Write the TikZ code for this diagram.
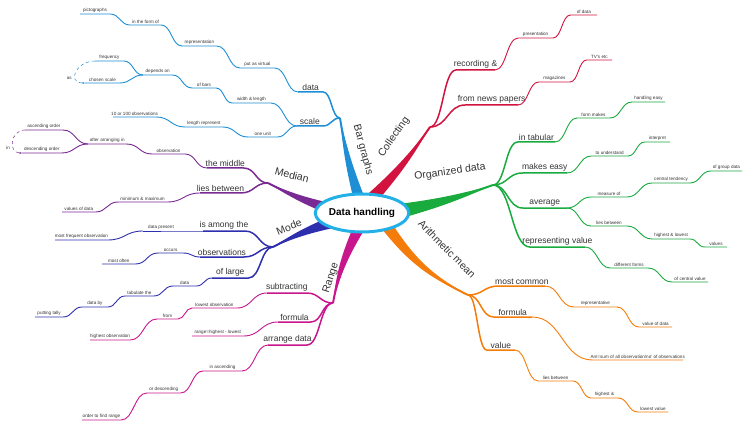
\documentclass[tikz,border=0pt]{standalone}
\usepackage{fontspec}
\setmainfont{Liberation Sans}
\usetikzlibrary{shapes.geometric,calc,arrows.meta}
\definecolor{cbl}{HTML}{1E8FD5}
\definecolor{cpu}{HTML}{7A2A93}
\definecolor{cmo}{HTML}{2E2FAE}
\definecolor{cra}{HTML}{C8168C}
\definecolor{cco}{HTML}{D3133F}
\definecolor{cgr}{HTML}{1AAB3F}
\definecolor{cor}{HTML}{F47C0A}
\definecolor{cce}{HTML}{22B0E6}
\definecolor{ctx}{HTML}{333333}
\tikzset{
  lsm/.style={font=\fontsize{4.6}{5}\selectfont},
  lmd/.style={font=\fontsize{8.5}{9}\selectfont},
  lbg/.style={font=\fontsize{10.5}{11}\selectfont},
  lbl/.style={above,inner sep=1pt,text=ctx},
  br1/.style={line width=1.5pt},
  br2/.style={line width=0.9pt},
}
\newcommand\seg[5][]{%
  \draw[#2] let \p1=(#3),\p2=(#4) in (#3) .. controls ({\x1+0.2*(\x2-\x1)},\y1) and ({\x1+0.2*(\x2-\x1)},\y2) .. ({\x1+0.4*(\x2-\x1)},\y2) -- (#4) node[midway,lbl,#1]{#5};}
\newcommand\trunk[6]{%
  \fill[#1] (#2) to[bend left=#5] (#4) to[bend right=#5] (#3) -- cycle;
  \draw[#1,line width=2pt] (#6) to[bend left=#5] (#4);}
\begin{document}
\begin{tikzpicture}[x=1pt,y=-1pt]
\useasboundingbox (0,0) rectangle (750,433);
\coordinate (C) at (362,213);
\coordinate (bA1) at (353,197); \coordinate (bA2) at (364,196); \coordinate (bA) at (358,196);
\coordinate (bH) at (340,118);
\coordinate (b1) at (298,92); \coordinate (b2) at (240,68); \coordinate (b3) at (182,46);
\coordinate (b4) at (130,25); \coordinate (b5) at (80,14);
\coordinate (s0) at (297,126); \coordinate (s1) at (232,103); \coordinate (s2) at (192,88);
\coordinate (s3) at (143,75); \coordinate (s4) at (95,61); \coordinate (s5) at (85,83);
\coordinate (u1) at (248,137); \coordinate (u2) at (185,127); \coordinate (u3) at (113,117);
\coordinate (mA1) at (330,203); \coordinate (mA2) at (328,214); \coordinate (mA) at (329,208);
\coordinate (mH) at (268,183);
\coordinate (m1) at (207,168); \coordinate (m2) at (152,154); \coordinate (m3) at (88,144);
\coordinate (m4) at (25,130); \coordinate (m5) at (22,153);
\coordinate (m6) at (200,193); \coordinate (m7) at (118,202); \coordinate (m8) at (62,212);
\coordinate (oA1) at (327,218); \coordinate (oA2) at (333,228); \coordinate (oA) at (330,223);
\coordinate (oH) at (273,247);
\coordinate (o1) at (203,231); \coordinate (o2) at (143,231); \coordinate (o3) at (55,240);
\coordinate (o4) at (200,257); \coordinate (o5) at (158,253); \coordinate (o6) at (102,264);
\coordinate (o7) at (212,278); \coordinate (o8) at (173,286); \coordinate (o9) at (125,296);
\coordinate (o10) at (82,307); \coordinate (o11) at (35,317);
\coordinate (rA1) at (352,230); \coordinate (rA2) at (363,232); \coordinate (rA) at (357,231);
\coordinate (rH) at (333,303);
\coordinate (r1) at (267,293); \coordinate (r2) at (192,308); \coordinate (r3) at (157,319);
\coordinate (r4) at (90,340);
\coordinate (r5) at (278,322); \coordinate (r6) at (192,336);
\coordinate (r7) at (268,345); \coordinate (r8) at (203,371); \coordinate (r9) at (147,393);
\coordinate (r10) at (82,420);
\coordinate (cA1) at (369,193); \coordinate (cA2) at (380,198); \coordinate (cA) at (374,195);
\coordinate (cH) at (430,127);
\coordinate (c1) at (495,70); \coordinate (c2) at (553,38); \coordinate (c3) at (597,15);
\coordinate (c4) at (518,105); \coordinate (c5) at (570,82); \coordinate (c6) at (612,60);
\coordinate (gA1) at (399,204); \coordinate (gA2) at (402,218); \coordinate (gA) at (400,211);
\coordinate (gH) at (493,185);
\coordinate (g1) at (555,142); \coordinate (g2) at (610,118); \coordinate (g3) at (665,102);
\coordinate (g4) at (567,173); \coordinate (g5) at (628,156); \coordinate (g6) at (670,142);
\coordinate (g7) at (567,208); \coordinate (g8) at (627,197); \coordinate (g9) at (690,183);
\coordinate (g10) at (742,171);
\coordinate (g11) at (627,226); \coordinate (g12) at (690,239); \coordinate (g13) at (727,247);
\coordinate (g14) at (585,247); \coordinate (g15) at (648,268); \coordinate (g16) at (708,282);
\coordinate (aA1) at (382,229); \coordinate (aA2) at (393,225); \coordinate (aA) at (387,227);
\coordinate (aH) at (468,295);
\coordinate (a1) at (545,286); \coordinate (a2) at (617,307); \coordinate (a3) at (672,327);
\coordinate (a4) at (532,317); \coordinate (a5) at (683,360);
\coordinate (a6) at (515,350); \coordinate (a7) at (573,381); \coordinate (a8) at (618,398);
\coordinate (a9) at (668,412);

\trunk{cbl}{bA1}{bA2}{bH}{4}{bA}
\trunk{cpu}{mA1}{mA2}{mH}{5}{mA}
\trunk{cmo}{oA1}{oA2}{oH}{-5}{oA}
\trunk{cra}{rA1}{rA2}{rH}{-8}{rA}
\trunk{cco}{cA1}{cA2}{cH}{-5}{cA}
\trunk{cgr}{gA1}{gA2}{gH}{-4}{gA}
\trunk{cor}{aA1}{aA2}{aH}{-14}{aA}
\node[lbg,text=ctx,rotate=-75] (tb) at (363,150) {Bar graphs};
\node[lbg,text=ctx,rotate=-14] (tm) at (292,175) {Median};
\node[lbg,text=ctx,rotate=22] (to) at (289,227) {Mode};
\node[lbg,text=ctx,rotate=72] (tr) at (331,278) {Range};
\node[lbg,text=ctx,rotate=55] (tc) at (394,137) {Collecting};
\node[lbg,text=ctx,rotate=8] (tg) at (450,172) {Organized data};
\node[lbg,text=ctx,rotate=-45] (ta) at (447,249) {Arithmetic mean};

\seg[lmd]{cbl,br1}{bH}{b1}{data}
\seg[lsm]{cbl,br2}{b1}{b2}{put as virtual}
\seg[lsm]{cbl,br2}{b2}{b3}{representation}
\seg[lsm]{cbl,br2}{b3}{b4}{in the form of}
\seg[lsm]{cbl,br2}{b4}{b5}{pictographs}
\seg[lmd]{cbl,br1}{bH}{s0}{scale}
\seg[lsm]{cbl,br2}{s0}{s1}{width \& length}
\seg[lsm]{cbl,br2}{s1}{s2}{of bars}
\seg[lsm]{cbl,br2}{s2}{s3}{depends on}
\seg[lsm]{cbl,br2}{s3}{s4}{frequency}
\seg[lsm]{cbl,br2}{s3}{s5}{chosen scale}
\seg[lsm]{cbl,br2}{s0}{u1}{one unit}
\seg[lsm]{cbl,br2}{u1}{u2}{length represent}
\seg[lsm]{cbl,br2}{u2}{u3}{10 or 100 observations}
\draw[cbl,dashed,line width=0.5pt,-{Stealth[length=3pt]}] (s4) to[out=180,in=180,looseness=2] node[left,lsm,text=ctx,pos=0.7] (asl) {as} (s5);
\seg[lmd]{cpu,br1}{mH}{m1}{the middle}
\seg[lsm]{cpu,br2}{m1}{m2}{observation}
\seg[lsm]{cpu,br2}{m2}{m3}{after arranging in}
\seg[lsm]{cpu,br2}{m3}{m4}{ascending order}
\seg[lsm]{cpu,br2}{m3}{m5}{descending order}
\draw[cpu,dashed,line width=0.5pt,-{Stealth[length=3pt]}] (m4) to[out=180,in=180,looseness=1.6] node[left,lsm,text=ctx,pos=0.7] (inl) {in} (m5);
\seg[lmd]{cpu,br1}{mH}{m6}{lies between}
\seg[lsm]{cpu,br2}{m6}{m7}{minimum \& maximum}
\seg[lsm]{cpu,br2}{m7}{m8}{values of data}
\seg[lmd]{cmo,br1}{oH}{o1}{is among the}
\seg[lsm]{cmo,br2}{o1}{o2}{data present}
\seg[lsm]{cmo,br2}{o2}{o3}{most frequent observation}
\seg[lmd]{cmo,br1}{oH}{o4}{observations}
\seg[lsm]{cmo,br2}{o4}{o5}{occurs}
\seg[lsm]{cmo,br2}{o5}{o6}{most often}
\seg[lmd]{cmo,br1}{oH}{o7}{of large}
\seg[lsm]{cmo,br2}{o7}{o8}{data}
\seg[lsm]{cmo,br2}{o8}{o9}{tabulate the}
\seg[lsm]{cmo,br2}{o9}{o10}{data by}
\seg[lsm]{cmo,br2}{o10}{o11}{putting tally}
\seg[lmd]{cra,br1}{rH}{r1}{subtracting}
\seg[lsm]{cra,br2}{r1}{r2}{lowest observation}
\seg[lsm]{cra,br2}{r2}{r3}{from}
\seg[lsm]{cra,br2}{r3}{r4}{highest observation}
\seg[lmd]{cra,br1}{rH}{r5}{formula}
\seg[lsm]{cra,br2}{r5}{r6}{range=highest - lowest}
\seg[lmd]{cra,br1}{rH}{r7}{arrange data}
\seg[lsm]{cra,br2}{r7}{r8}{in ascending}
\seg[lsm]{cra,br2}{r8}{r9}{or descending}
\seg[lsm]{cra,br2}{r9}{r10}{order to find range}
\seg[lmd]{cco,br1}{cH}{c1}{recording \&}
\seg[lsm]{cco,br2}{c1}{c2}{presentation}
\seg[lsm]{cco,br2}{c2}{c3}{of data}
\seg[lmd]{cco,br1}{cH}{c4}{from news papers}
\seg[lsm]{cco,br2}{c4}{c5}{magazines}
\seg[lsm]{cco,br2}{c5}{c6}{TV's etc}
\seg[lmd]{cgr,br1}{gH}{g1}{in tabular}
\seg[lsm]{cgr,br2}{g1}{g2}{form makes}
\seg[lsm]{cgr,br2}{g2}{g3}{handling easy}
\seg[lmd]{cgr,br1}{gH}{g4}{makes easy}
\seg[lsm]{cgr,br2}{g4}{g5}{to understand}
\seg[lsm]{cgr,br2}{g5}{g6}{interpret}
\seg[lmd]{cgr,br1}{gH}{g7}{average}
\seg[lsm]{cgr,br2}{g7}{g8}{measure of}
\seg[lsm]{cgr,br2}{g8}{g9}{central tendency}
\seg[lsm]{cgr,br2}{g9}{g10}{of group data}
\seg[lsm]{cgr,br2}{g7}{g11}{lies between}
\seg[lsm]{cgr,br2}{g11}{g12}{highest \& lowest}
\seg[lsm]{cgr,br2}{g12}{g13}{values}
\seg[lmd]{cgr,br1}{gH}{g14}{representing value}
\seg[lsm]{cgr,br2}{g14}{g15}{different forms}
\seg[lsm]{cgr,br2}{g15}{g16}{of central value}
\seg[lmd]{cor,br1}{aH}{a1}{most common}
\seg[lsm]{cor,br2}{a1}{a2}{representative}
\seg[lsm]{cor,br2}{a2}{a3}{value of data}
\seg[lmd]{cor,br1}{aH}{a4}{formula}
\seg[lsm]{cor,br2}{a4}{a5}{Am=sum of all observation/no' of observations}
\seg[lmd]{cor,br1}{aH}{a6}{value}
\seg[lsm]{cor,br2}{a6}{a7}{lies between}
\seg[lsm]{cor,br2}{a7}{a8}{highest \&}
\seg[lsm]{cor,br2}{a8}{a9}{lowest value}
\node[ellipse,draw=cce,line width=3pt,fill=white,minimum width=80pt,minimum height=38pt,font=\bfseries\fontsize{10}{11}\selectfont,inner sep=0pt] (centre) at (C) {Data handling};
\end{tikzpicture}
\end{document}
